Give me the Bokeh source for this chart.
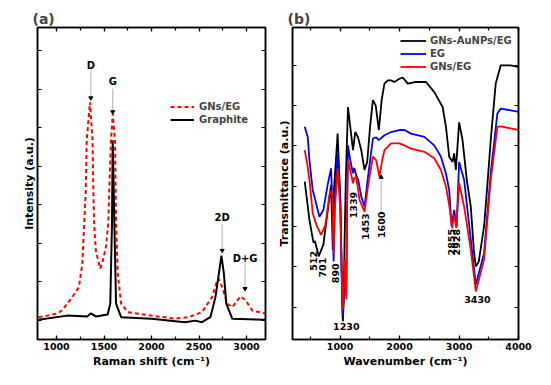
from math import pi
from bokeh.plotting import figure
from bokeh.models import LinearAxis, SingleIntervalTicker, Range1d, CustomJSTickFormatter
from bokeh.layouts import row
from bokeh.core.properties import value
from bokeh.embed import file_html
from bokeh.resources import INLINE

FONT = "DejaVu Sans"

# ---------------- Panel (a): Raman ----------------
raman_graphite_x = [811, 1113, 1326, 1361, 1414, 1538, 1566, 1584, 1592, 1609, 1627, 1680,
                    1999, 2353, 2460, 2531, 2620, 2673, 2709, 2736, 2762, 2787, 2850, 3205]
raman_graphite_y = [0.1, 1.2, 1.0, 1.8, 1.0, 1.5, 4.3, 25.1, 46.7, 25.1, 4.3, 0.8,
                    0.4, -0.5, -0.1, -0.5, 0.8, 6.0, 12.1, 16.8, 12.1, 4.3, 0.4, 0.1]

raman_gns_x = [811, 900, 1006, 1060, 1113, 1166, 1236, 1272, 1308, 1318, 1353, 1379, 1390,
               1396, 1414, 1460, 1485, 1520, 1545, 1555, 1574, 1592, 1616, 1627, 1645,
               1680, 1751, 1999, 2247, 2390, 2531, 2638, 2691, 2709, 2744, 2797, 2850,
               2903, 2939, 2992, 3063, 3205]
raman_gns_y = [0.8, 1.2, 1.7, 2.6, 4.3, 6.0, 8.6, 14.7, 33.7, 46.7, 56.6, 46.7, 31.1,
               25.1, 18.1, 13.4, 15.1, 19.0, 25.1, 33.7, 46.7, 53.6, 46.7, 25.1, 12.1,
               4.3, 2.1, 1.2, 0.4, 0.8, 2.1, 6.0, 10.3, 10.8, 8.6, 4.3, 3.4,
               5.1, 6.2, 5.1, 2.5, 1.7]

raman_labels = ["D", "G", "2D", "D+G"]
raman_label_x = [1361, 1592, 2744, 2985]
raman_label_y = [66.2, 61.9, 26.8, 16.1]
raman_line_top = [64.9, 60.1, 24.9, 14.8]
raman_line_bot = [58.4, 54.6, 18.6, 8.6]
raman_tip_y = [57.7, 54.1, 18.1, 8.2]

# ---------------- Panel (b): FTIR ----------------
ftir_black_x = [406, 485, 552, 577, 641, 719, 848, 878, 886, 959, 1004, 1034, 1046, 1063,
                1076, 1096, 1133, 1217, 1255, 1300, 1356, 1411, 1456, 1507, 1552, 1599,
                1652, 1699, 1746, 1803, 1858, 1914, 1997, 2054, 2138, 2277, 2445, 2584,
                2724, 2780, 2835, 2892, 2918, 2947, 3002, 3059, 3131, 3198, 3249, 3282,
                3332, 3421, 3483, 3533, 3617, 3701, 3868, 4007]
ftir_black_y = [31.1, 21.6, 16.0, 16.4, 12.6, 15.5, 30.3, 14.2, 26.6, 43.0, 26.6, 1.9, -3.5, 1.9,
                16.7, 31.5, 49.6, 38.9, 43.4, 42.2, 38.9, 34.0, 36.0, 45.1, 51.3, 50.0,
                43.9, 51.3, 55.4, 56.2, 56.2, 55.8, 56.6, 56.9, 55.4, 55.8, 55.8, 53.3,
                49.6, 44.7, 37.3, 36.0, 38.1, 34.0, 45.8, 41.4, 31.5, 24.9, 14.2, 10.1,
                11.3, 20.0, 31.5, 41.4, 55.4, 59.9, 59.9, 59.5]

ftir_blue_x = [406, 456, 485, 540, 569, 652, 719, 791, 848, 870, 892, 912, 959, 1004, 1034,
               1046, 1063, 1079, 1105, 1118, 1133, 1171, 1217, 1238, 1272, 1306, 1356, 1411,
               1473, 1552, 1607, 1652, 1746, 1858, 1997, 2081, 2193, 2416, 2584, 2696,
               2780, 2835, 2875, 2918, 2959, 3002, 3086, 3198, 3282, 3421, 3533, 3645,
               3701, 4007]
ftir_blue_y = [44.7, 42.2, 36.4, 29.0, 27.4, 22.4, 24.1, 30.3, 34.4, 26.6, 11.3, 26.6, 38.1, 26.6, 4.3,
               -2.2, 4.3, 9.3, 2.7, 26.6, 40.1, 36.4, 33.2, 34.5, 32.7, 31.5, 27.4, 24.9,
               32.7, 41.8, 42.1, 41.4, 42.6, 43.4, 43.9, 43.9, 43.0, 42.2, 40.1, 37.3,
               33.2, 29.0, 20.0, 24.1, 20.0, 36.0, 31.5, 16.7, 5.6, 13.4, 33.2, 48.0,
               49.2, 48.4]

ftir_red_x = [406, 451, 485, 540, 602, 681, 753, 820, 865, 878, 892, 912, 959, 1004, 1034,
              1046, 1063, 1079, 1105, 1118, 1133, 1171, 1217, 1238, 1272, 1327, 1411, 1473,
              1552, 1607, 1662, 1708, 1746, 1858, 1997, 2081, 2193, 2416, 2584, 2696,
              2780, 2835, 2884, 2918, 2955, 3002, 3086, 3198, 3282, 3421, 3533, 3645,
              3701, 4007]
ftir_red_y = [38.9, 35.2, 31.5, 23.3, 20.4, 17.9, 20.4, 27.8, 29.0, 21.6, 13.4, 24.1, 34.4, 24.1, 4.3,
              -0.6, 4.3, 11.8, 1.9, 24.1, 36.4, 34.0, 30.7, 32.0, 32.3, 26.6, 23.7, 30.3,
              37.3, 36.4, 32.3, 36.4, 38.9, 40.6, 40.6, 40.1, 39.3, 38.5, 36.9, 34.0,
              29.9, 25.3, 19.6, 22.9, 19.6, 30.7, 24.9, 14.2, 3.9, 11.8, 31.5, 44.7,
              44.8, 43.9]

ftir_rot_labels = ["512", "701", "890", "1339", "1453", "1600", "2855", "2928"]
ftir_rot_x = [557, 697, 925, 1227, 1428, 1691, 2875, 2964]
ftir_rot_y = [11.5, 9.8, 8.4, 25.3, 20.0, 20.4, 16.1, 16.1]
ftir_hor_labels = ["1230", "3430"]
ftir_hor_x = [1105, 3310]
ftir_hor_y = [-4.9, 1.9]
ftir_arrow_x = [1691]
ftir_arrow_bot = [23.6]
ftir_arrow_top = [31.5]
ftir_arrow_tip = [32.2]

BLANK = "return ''"


def hide_labels(ax):
    ax.formatter = CustomJSTickFormatter(code=BLANK)
    ax.major_label_text_font_size = "1px"
    ax.major_label_standoff = 0


def style(p, title, xlabel, ylabel, xint, xminor, yint):
    p.title.text = title
    p.title.text_font = FONT
    p.title.text_font_size = "14px"
    p.title.text_font_style = "bold"
    p.title.align = "left"
    p.title.offset = -5
    p.title.standoff = 1
    p.xgrid.visible = False
    p.ygrid.visible = False
    p.outline_line_color = "black"
    p.outline_line_width = 1.5
    p.background_fill_color = "white"
    p.border_fill_color = "white"
    for ax in p.xaxis + p.yaxis:
        ax.axis_line_width = 1.5
        ax.major_tick_in = 4
        ax.major_tick_out = 0
        ax.minor_tick_in = 3
        ax.minor_tick_out = 0
        ax.major_tick_line_width = 1.2
        ax.minor_tick_line_width = 1.2
        ax.major_label_text_font = FONT
        ax.major_label_text_font_style = "bold"
        ax.major_label_text_font_size = "9.5px"
        ax.major_label_text_color = "black"
        ax.axis_label_text_font = FONT
        ax.axis_label_text_font_style = "bold"
        ax.axis_label_text_font_size = "11px"
        ax.axis_label_text_color = "black"
    p.xaxis.ticker = SingleIntervalTicker(interval=xint, num_minor_ticks=xminor)
    p.yaxis.ticker = SingleIntervalTicker(interval=yint, num_minor_ticks=0)
    p.xaxis.axis_label = xlabel
    p.xaxis.major_label_standoff = 3
    p.xaxis.axis_label_standoff = 2
    p.yaxis.axis_label = ylabel
    for ax in p.yaxis:
        hide_labels(ax)
    p.yaxis.axis_label_standoff = 2
    p.yaxis.minor_tick_in = 0
    top = LinearAxis(ticker=SingleIntervalTicker(interval=xint, num_minor_ticks=xminor))
    right = LinearAxis(ticker=SingleIntervalTicker(interval=yint, num_minor_ticks=0))
    for ax in (top, right):
        ax.axis_line_width = 1.5
        ax.major_tick_in = 4
        ax.major_tick_out = 0
        ax.minor_tick_in = 3 if ax is top else 0
        ax.minor_tick_out = 0
        ax.major_tick_line_width = 1.2
        ax.minor_tick_line_width = 1.2
        hide_labels(ax)
    p.add_layout(top, "above")
    p.add_layout(right, "right")


# Panel (a)
p1 = figure(width=274, height=384, output_backend="svg", toolbar_location=None,
            x_range=Range1d(800, 3200), y_range=Range1d(-5, 76),
            min_border_left=37, min_border_right=9, min_border_top=27, min_border_bottom=45)
style(p1, "(a)", "Raman shift (cm\u207b\u00b9)", "Intensity (a.u.)", 500, 2, 10)

p1.segment(x0=raman_label_x, y0=raman_line_top, x1=raman_label_x, y1=raman_line_bot,
           line_color="#9a9a9a", line_width=0.8)
p1.scatter(x=raman_label_x, y=raman_tip_y, marker="inverted_triangle", size=4,
           color="black")
p1.text(x=raman_label_x, y=raman_label_y, text=raman_labels, text_align="center",
        text_baseline="middle", text_font=value(FONT), text_font_style="bold",
        text_font_size="10px", text_color="black")

p1.line(raman_gns_x, raman_gns_y, line_color="red", line_width=2, line_dash="4 3",
        legend_label="GNs/EG")
p1.line(raman_graphite_x, raman_graphite_y, line_color="black", line_width=2,
        legend_label="Graphite")

lg = p1.legend[0]
lg.location = (133, 213)
lg.background_fill_alpha = 0
lg.border_line_alpha = 0
lg.padding = 0
lg.margin = 0
lg.spacing = 0
lg.glyph_width = 24
lg.glyph_height = 13
lg.label_height = 13
lg.label_standoff = 5
lg.label_text_font = FONT
lg.label_text_font_style = "bold"
lg.label_text_font_size = "10px"

# Panel (b)
p2 = figure(width=276, height=384, output_backend="svg", toolbar_location=None,
            x_range=Range1d(200, 4000), y_range=Range1d(-8, 69.3),
            min_border_left=17, min_border_right=32, min_border_top=27, min_border_bottom=44)
style(p2, "(b)", "Wavenumber (cm\u207b\u00b9)", "Transmittance (a.u.)", 1000, 2, 10)

p2.line(ftir_black_x, ftir_black_y, line_color="black", line_width=1.8,
        legend_label="GNs-AuNPs/EG")
p2.line(ftir_blue_x, ftir_blue_y, line_color="blue", line_width=1.8, legend_label="EG")
p2.line(ftir_red_x, ftir_red_y, line_color="red", line_width=1.8, legend_label="GNs/EG")

p2.segment(x0=ftir_arrow_x, y0=ftir_arrow_bot, x1=ftir_arrow_x, y1=ftir_arrow_top,
           line_color="#9a9a9a", line_width=0.8)
p2.scatter(x=ftir_arrow_x, y=ftir_arrow_tip, marker="triangle", size=4, color="black")
p2.text(x=ftir_rot_x, y=ftir_rot_y, text=ftir_rot_labels, angle=pi / 2,
        text_align="center", text_baseline="middle", text_font=value(FONT),
        text_font_style="bold", text_font_size="9.5px", text_color="black")
p2.text(x=ftir_hor_x, y=ftir_hor_y, text=ftir_hor_labels, text_align="center",
        text_baseline="middle", text_font=value(FONT), text_font_style="bold",
        text_font_size="9.5px", text_color="black")

lg2 = p2.legend[0]
lg2.location = (108, 266)
lg2.background_fill_alpha = 0
lg2.border_line_alpha = 0
lg2.padding = 0
lg2.margin = 0
lg2.spacing = 0
lg2.glyph_width = 26
lg2.glyph_height = 13
lg2.label_height = 13
lg2.label_standoff = 4
lg2.label_text_font = FONT
lg2.label_text_font_style = "bold"
lg2.label_text_font_size = "10px"

layout = row(p1, p2)
open("out.html", "w").write(file_html(layout, INLINE))
